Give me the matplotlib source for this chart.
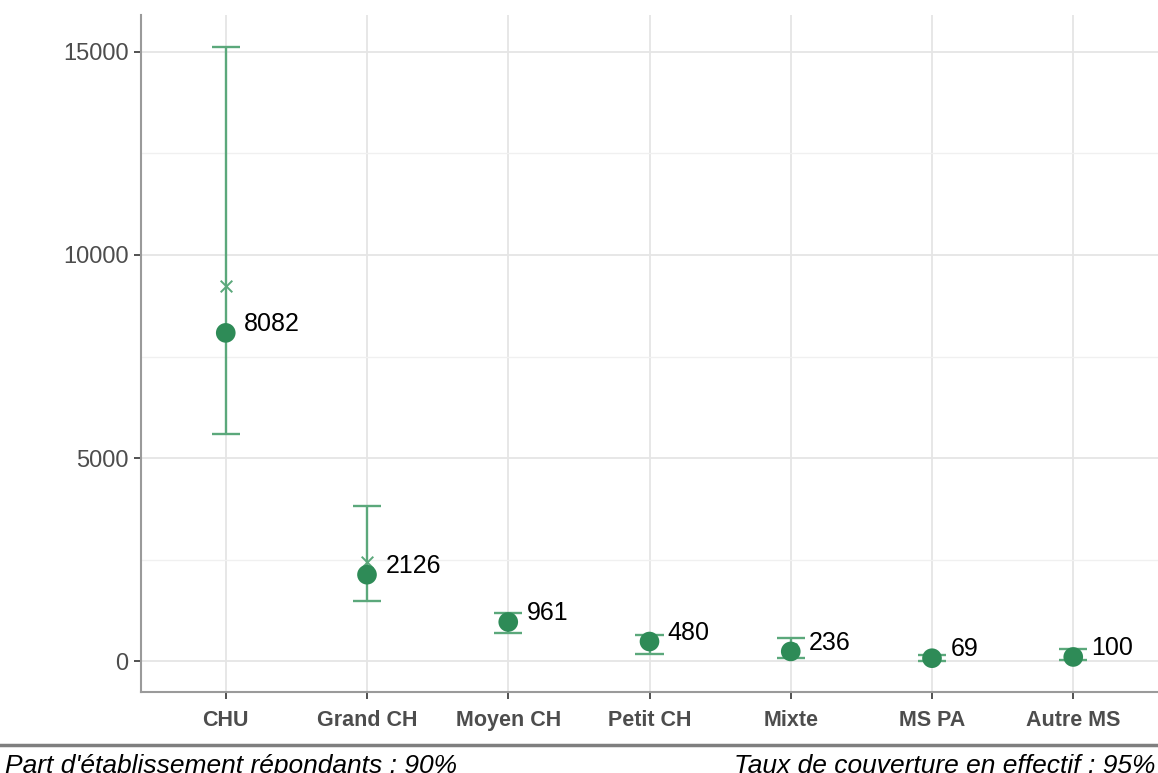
import numpy as np
import matplotlib.pyplot as plt

# Effectifs par catégorie d'établissement
categories = ["CHU", "Grand CH", "Moyen CH", "Petit CH", "Mixte", "MS PA", "Autre MS"]
valeurs = [8082, 2126, 961, 480, 236, 69, 100]
moyennes = [9240, 2440, 1000, 500, 300, 80, 130]
borne_basse = [5600, 1480, 700, 170, 70, 0, 20]
borne_haute = [15130, 3820, 1175, 640, 575, 150, 295]

note_gauche = "Part d'établissement répondants : 90%"
note_droite = "Taux de couverture en effectif : 95%"

vert = "#2E8B57"
vert_clair = "#5BA87B"

fig = plt.figure(figsize=(11.58, 7.73), dpi=100)
ax = fig.add_axes([141 / 1158, 1 - 692 / 773, 1 - 141 / 1158, (692 - 15) / 773])

x = np.arange(len(categories))

# barres d'intervalle
ax.vlines(x, borne_basse, borne_haute, color=vert_clair, lw=1.7, zorder=3)
ax.hlines(borne_basse, x - 0.1, x + 0.1, color=vert_clair, lw=1.7, zorder=3)
ax.hlines(borne_haute, x - 0.1, x + 0.1, color=vert_clair, lw=1.7, zorder=3)
ax.scatter(x, moyennes, marker="x", s=70, color=vert_clair, lw=1.4, zorder=4)
ax.scatter(x, valeurs, s=200, color=vert, zorder=5, edgecolors="none")

for xi, v in zip(x, valeurs):
    ax.text(xi + 0.13, v + 220, str(v), fontsize=18, color="black",
            ha="left", va="center", family="Liberation Sans", zorder=6)

ax.set_xlim(-0.6, len(categories) - 0.4)
ax.set_ylim(-763, 15911)
ax.set_yticks([0, 5000, 10000, 15000])
ax.set_yticks([2500, 7500, 12500], minor=True)
ax.set_xticks(x)
ax.set_xticklabels(categories, fontweight="bold", fontsize=15.5,
                   family="Liberation Sans", color="#4D4D4D")
for lab in ax.get_yticklabels():
    lab.set_family("Liberation Sans")
ax.tick_params(axis="y", labelsize=17, labelcolor="#4D4D4D", color="#333333",
               length=5, width=1.2, pad=4)
ax.tick_params(axis="y", which="minor", length=0)
ax.tick_params(axis="x", color="#333333", length=5, width=1.2, pad=8)

ax.grid(True, which="major", color="#E5E5E5", lw=1.3, zorder=0)
ax.grid(True, which="minor", axis="y", color="#F0F0F0", lw=1.0, zorder=0)
ax.set_axisbelow(True)

for s in ["top", "right"]:
    ax.spines[s].set_visible(False)
for s in ["left", "bottom"]:
    ax.spines[s].set_color("#9A9A9A")
    ax.spines[s].set_linewidth(1.5)

# pied de graphique
fig.add_artist(plt.Line2D([0, 1], [1 - 745 / 773, 1 - 745 / 773],
                          color="#7F7F7F", lw=2.5, transform=fig.transFigure))
fig.text(5 / 1158, 1 - 773 / 773, note_gauche, fontsize=19, style="italic",
         family="Liberation Sans", ha="left", va="baseline")
fig.text(1155 / 1158, 1 - 773 / 773, note_droite, fontsize=19, style="italic",
         family="Liberation Sans", ha="right", va="baseline")

fig.savefig("out.png", dpi=100)
